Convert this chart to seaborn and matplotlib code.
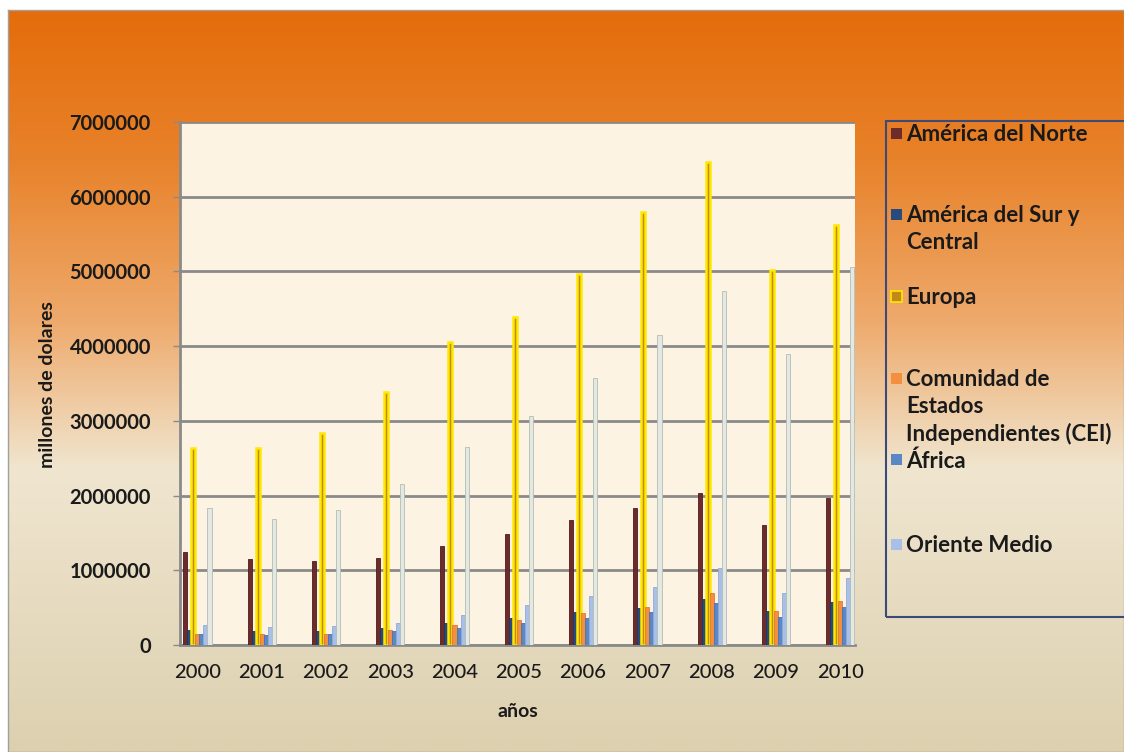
import numpy as np
import pandas as pd
import matplotlib.pyplot as plt
import seaborn as sns
from matplotlib.patches import Rectangle

# Exportaciones por region (millones de dolares)
years = ['2000', '2001', '2002', '2003', '2004', '2005', '2006', '2007', '2008', '2009', '2010']
america_norte = [1240000, 1150000, 1120000, 1170000, 1330000, 1480000, 1670000, 1840000, 2040000, 1610000, 1970000]
america_sur = [200000, 190000, 190000, 230000, 290000, 360000, 440000, 490000, 610000, 460000, 580000]
europa = [2640000, 2640000, 2840000, 3390000, 4060000, 4390000, 4970000, 5800000, 6460000, 5020000, 5620000]
cei = [145000, 145000, 150000, 195000, 265000, 340000, 425000, 510000, 700000, 450000, 590000]
africa = [150000, 140000, 150000, 190000, 230000, 300000, 365000, 440000, 560000, 380000, 510000]
oriente_medio = [270000, 240000, 250000, 300000, 400000, 540000, 650000, 770000, 1030000, 700000, 900000]
asia = [1840000, 1680000, 1810000, 2160000, 2650000, 3060000, 3580000, 4150000, 4740000, 3900000, 5060000]

series = ['América del Norte', 'América del Sur y\nCentral', 'Europa',
          'Comunidad de\nEstados\nIndependientes (CEI)', 'África', 'Oriente Medio', 'Asia']
values = [america_norte, america_sur, europa, cei, africa, oriente_medio, asia]
colors = ['#6E2B2B', '#284B7E', '#C08A14', '#F39040', '#5C87C6', '#A8BFE8', '#E4E8E2']
edges = ['#4E1C1C', '#1C3860', '#FFE800', '#E07A30', '#4A72AE', '#93A9D2', '#B4BCB4']

df = pd.DataFrame({
    'año': years * len(series),
    'region': [s for s in series for _ in years],
    'valor': [v for vals in values for v in vals],
})

sns.set_style('white')
plt.rcParams['font.family'] = ['Lato', 'DejaVu Sans']

W, H = 1124, 752
fig = plt.figure(figsize=(11.24, 7.52), dpi=100, facecolor='white')

# fondo degradado naranja -> beige
bg = fig.add_axes([8 / W, 0, 1 - 8 / W, 742 / H], zorder=-10)
stops = np.array([0.0, 0.2, 0.42, 0.62, 1.0])
cols = np.array([[228, 108, 10], [232, 130, 42], [238, 170, 108], [240, 230, 208], [220, 208, 175]]) / 255
t = np.linspace(0, 1, 400)
grad = np.stack([np.interp(t, stops, cols[:, i]) for i in range(3)], axis=1)[:, None, :]
bg.imshow(grad, aspect='auto', extent=[0, 1, 0, 1])
bg.set_xticks([])
bg.set_yticks([])
for s in bg.spines.values():
    s.set_color('#A0A0A0')
    s.set_linewidth(1)

ax = fig.add_axes([180 / W, (H - 645) / H, 675 / W, 523 / H])
ax.set_facecolor('#FCF3E2')

sns.barplot(data=df, x='año', y='valor', hue='region', hue_order=series,
            palette=dict(zip(series, colors)), saturation=1, width=0.44,
            legend=False, ax=ax, zorder=3)

for cont, ec, name in zip(ax.containers, edges, series):
    for bar in cont:
        bar.set_edgecolor(ec)
        bar.set_linewidth(1.8 if name == 'Europa' else 0.6)

ax.set_xlim(-0.27, 10.23)
ax.set_ylim(0, 7000000)
ax.set_yticks(np.arange(0, 7000001, 1000000))
ax.yaxis.grid(True, color='#8A8A8A', linewidth=2, zorder=0)
ax.set_axisbelow(True)
for side in ['top', 'right']:
    ax.spines[side].set_visible(False)
ax.spines['left'].set_color('#8A8A8A')
ax.spines['left'].set_linewidth(2)
ax.spines['bottom'].set_color('#8A8A8A')
ax.spines['bottom'].set_linewidth(2)

ax.tick_params(axis='y', which='both', left=True, length=5, width=1, color='#8A8A8A', pad=16)
ax.tick_params(axis='x', bottom=False, pad=10)
ax.set_yticklabels([f'{int(v)}' for v in ax.get_yticks()], fontsize=14.5, fontweight='bold', color='#1A1A1A')
ax.set_xticklabels(years, fontsize=14.5, fontweight='medium', color='#1A1A1A')
ax.set_xlabel('años', fontsize=14, fontweight='bold', color='#1A1A1A', labelpad=16)
ax.set_ylabel('')
fig.text(48 / W, 1 - 385 / H, 'millones de dolares', rotation=90, fontsize=14, fontweight='bold',
         color='#1A1A1A', ha='center', va='center')

# leyenda estilo Excel (recortada en el borde derecho)
fig.patches.append(Rectangle((886 / W, (H - 617) / H), 260 / W, 496 / H, transform=fig.transFigure,
                             fill=False, edgecolor='#3C4A78', linewidth=1.5, zorder=5))
entry_y = [137, 218, 300, 382, 463, 548]
for name, c, ec, y in zip(series[:6], colors[:6], edges[:6], entry_y):
    lw = 1.2 if name == 'Europa' else 0
    fig.patches.append(Rectangle((891 / W, (H - y - 2) / H), 11 / W, 11 / H, transform=fig.transFigure,
                                 facecolor=c, edgecolor=ec, linewidth=lw, zorder=6))
    fig.text(906 / W, (H - y + 13) / H, name, fontsize=16, fontweight='bold', color='#1A1A1A',
             ha='left', va='top', linespacing=1.35)

fig.savefig('out.png', dpi=100, facecolor=fig.get_facecolor())
